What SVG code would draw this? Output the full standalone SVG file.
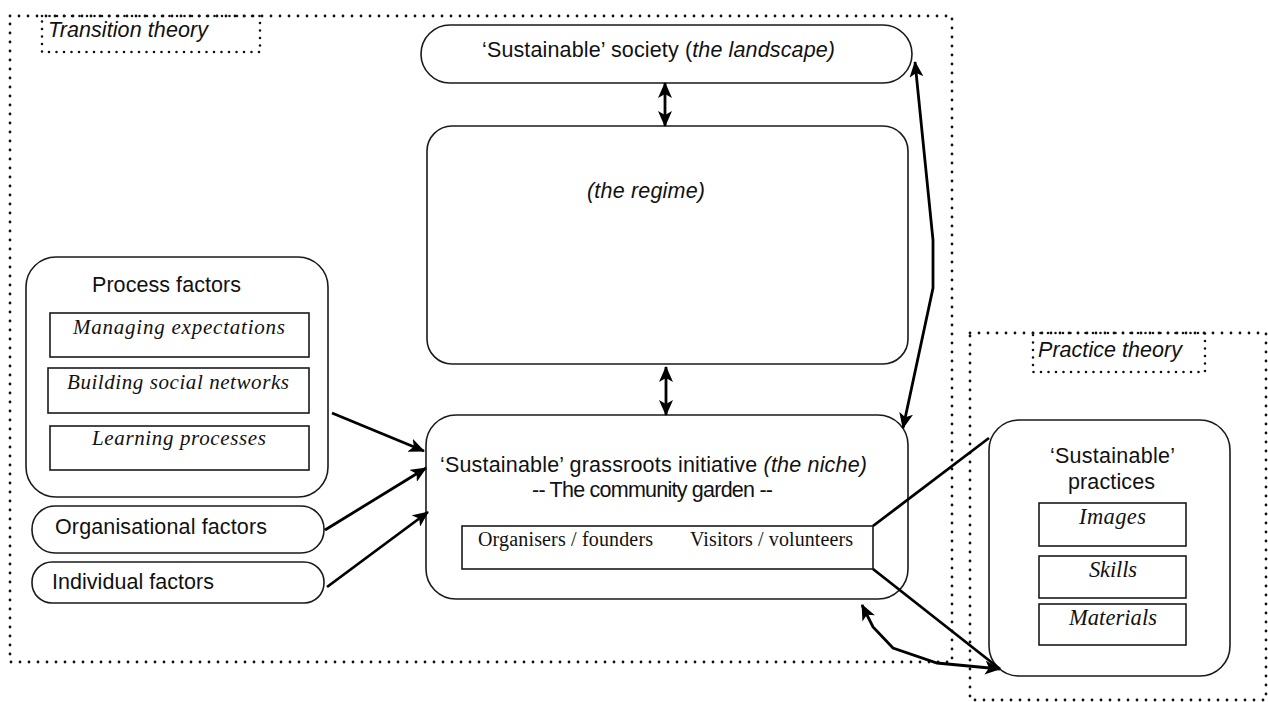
<svg xmlns="http://www.w3.org/2000/svg" width="1268" height="702" viewBox="0 0 1268 702">
<defs>
<style>
.dot{fill:none;stroke:#111;stroke-width:2.8;stroke-linecap:round;stroke-dasharray:0 9}
.dotl{fill:none;stroke:#111;stroke-width:2.6;stroke-linecap:round;stroke-dasharray:0 7.5}
.box{fill:#fff;stroke:#1a1a1a;stroke-width:1.6}
.sub{fill:#fff;stroke:#1a1a1a;stroke-width:1.6}
.con{fill:none;stroke:#000;stroke-width:2.8}
.sans{font-family:"Liberation Sans",Arial,sans-serif;font-size:21.5px;fill:#111}
.it{font-style:italic}
.serif{font-family:"Liberation Serif","Times New Roman",serif;font-size:21px;fill:#111}
.serifn{font-family:"Liberation Serif","Times New Roman",serif;font-size:20px;fill:#111}
.serifb{font-family:"Liberation Serif","Times New Roman",serif;font-size:22.5px;fill:#111}
</style>
<marker id="ah" viewBox="0 0 16 14" refX="15" refY="7" markerWidth="16" markerHeight="14" markerUnits="userSpaceOnUse" orient="auto-start-reverse">
<path d="M0,0 L16,7 L0,14 L4,7 z" fill="#000"/>
</marker>
</defs>

<g id="transition-theory">
<rect class="dot" x="10" y="16" width="942" height="646"/>
<rect class="dotl" x="42" y="16" width="218" height="36"/>
<text class="sans it" x="48" y="37" textLength="160">Transition theory</text>
</g>

<g id="practice-theory">
<rect class="dot" x="970" y="333" width="296" height="367"/>
<rect class="dotl" x="1033" y="333" width="172" height="39"/>
<text class="sans it" x="1038" y="357" textLength="144">Practice theory</text>
</g>

<g id="landscape">
<rect class="box" x="421" y="25" width="491" height="58" rx="29"/>
<text class="sans" x="482" y="57" textLength="353">‘Sustainable’ society (<tspan class="it">the landscape)</tspan></text>
</g>

<g id="regime">
<rect class="box" x="427" y="126" width="481" height="238" rx="25"/>
<text class="sans it" x="587" y="198" textLength="118">(the regime)</text>
</g>

<g id="niche">
<rect class="box" x="426" y="415" width="482" height="184" rx="30"/>
<text class="sans" x="440" y="472" textLength="427">‘Sustainable’ grassroots initiative <tspan class="it">(the niche)</tspan></text>
<text class="sans" x="532" y="497" textLength="241">-- The community garden --</text>
<rect class="sub" x="462" y="526" width="411" height="43"/>
<text class="serifn" x="478" y="546" textLength="175">Organisers / founders</text>
<text class="serifn" x="690" y="546" textLength="163">Visitors / volunteers</text>
</g>

<g id="process-factors">
<rect class="box" x="26" y="257" width="302" height="240" rx="30"/>
<text class="sans" x="92" y="292" textLength="149">Process factors</text>
<rect class="sub" x="50" y="313" width="259" height="44"/>
<text class="serif it" x="73" y="334" textLength="212">Managing expectations</text>
<rect class="sub" x="48" y="368" width="261" height="45"/>
<text class="serif it" x="67" y="389" textLength="222">Building social networks</text>
<rect class="sub" x="50" y="426" width="259" height="44"/>
<text class="serif it" x="92" y="445" textLength="174">Learning processes</text>
</g>

<g id="organisational-factors">
<rect class="box" x="32" y="506" width="292" height="47" rx="23"/>
<text class="sans" x="55" y="534" textLength="212">Organisational factors</text>
</g>

<g id="individual-factors">
<rect class="box" x="32" y="562" width="292" height="41" rx="20"/>
<text class="sans" x="52" y="589" textLength="162">Individual factors</text>
</g>

<g id="practices">
<rect class="box" x="989" y="420" width="241" height="256" rx="30"/>
<text class="sans" x="1050" y="463" textLength="125">‘Sustainable’</text>
<text class="sans" x="1068" y="489" textLength="87">practices</text>
<rect class="sub" x="1039" y="503" width="147" height="43"/>
<text class="serifb it" x="1079" y="524" textLength="67">Images</text>
<rect class="sub" x="1039" y="556" width="147" height="42"/>
<text class="serifb it" x="1089" y="577" textLength="48">Skills</text>
<rect class="sub" x="1039" y="604" width="147" height="41"/>
<text class="serifb it" x="1069" y="625" textLength="88">Materials</text>
</g>

<g id="connectors">
<line class="con" x1="665" y1="83" x2="665" y2="126" marker-start="url(#ah)" marker-end="url(#ah)"/>
<line class="con" x1="666" y1="367" x2="666" y2="415" marker-start="url(#ah)" marker-end="url(#ah)"/>
<polyline class="con" points="915,62 933,240 933,288 903,428" marker-start="url(#ah)" marker-end="url(#ah)"/>
<line class="con" x1="332" y1="413" x2="424" y2="451" marker-end="url(#ah)"/>
<line class="con" x1="325" y1="530" x2="426" y2="468" marker-end="url(#ah)"/>
<line class="con" x1="327" y1="587" x2="428" y2="512" marker-end="url(#ah)"/>
<line class="con" x1="873" y1="526" x2="989" y2="438"/>
<line class="con" x1="873" y1="569" x2="1000" y2="669"/>
<polyline class="con" points="862,605 873,627 893,648 937,663 1000,669" marker-start="url(#ah)" marker-end="url(#ah)"/>
</g>
</svg>
